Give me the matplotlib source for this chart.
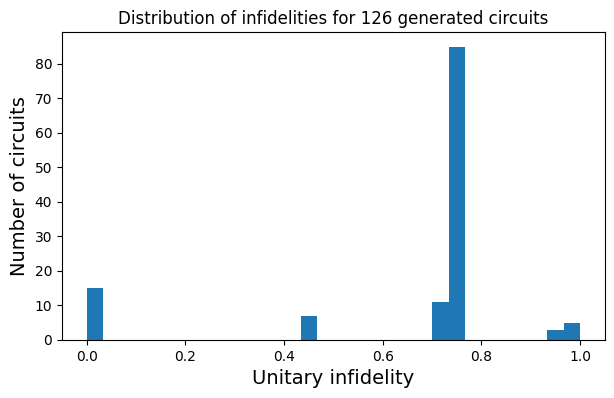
import matplotlib
matplotlib.use("Agg")
import matplotlib.pyplot as plt
import numpy as np

# histogram of infidelities: 30 bins on [0, 1]
n_bins = 30
bin_counts = [15, 0, 0, 0, 0, 0, 0, 0, 0, 0,
              0, 0, 0, 7, 0, 0, 0, 0, 0, 0,
              0, 11, 85, 0, 0, 0, 0, 0, 3, 5]
n_circuits = sum(bin_counts)

edges = np.linspace(0, 1, n_bins + 1)
centers = (edges[:-1] + edges[1:]) / 2

fig = plt.figure(figsize=(6.14, 3.98), dpi=100)
ax = fig.add_axes([0.101, 0.146, 0.884, 0.774])
ax.hist(centers, bins=edges, weights=bin_counts, color="#1f77b4")
ax.set_title(f"Distribution of infidelities for {n_circuits} generated circuits")
ax.set_xlabel("Unitary infidelity", fontsize=14)
ax.set_ylabel("Number of circuits", fontsize=14)
fig.savefig("out.png", dpi=100)
